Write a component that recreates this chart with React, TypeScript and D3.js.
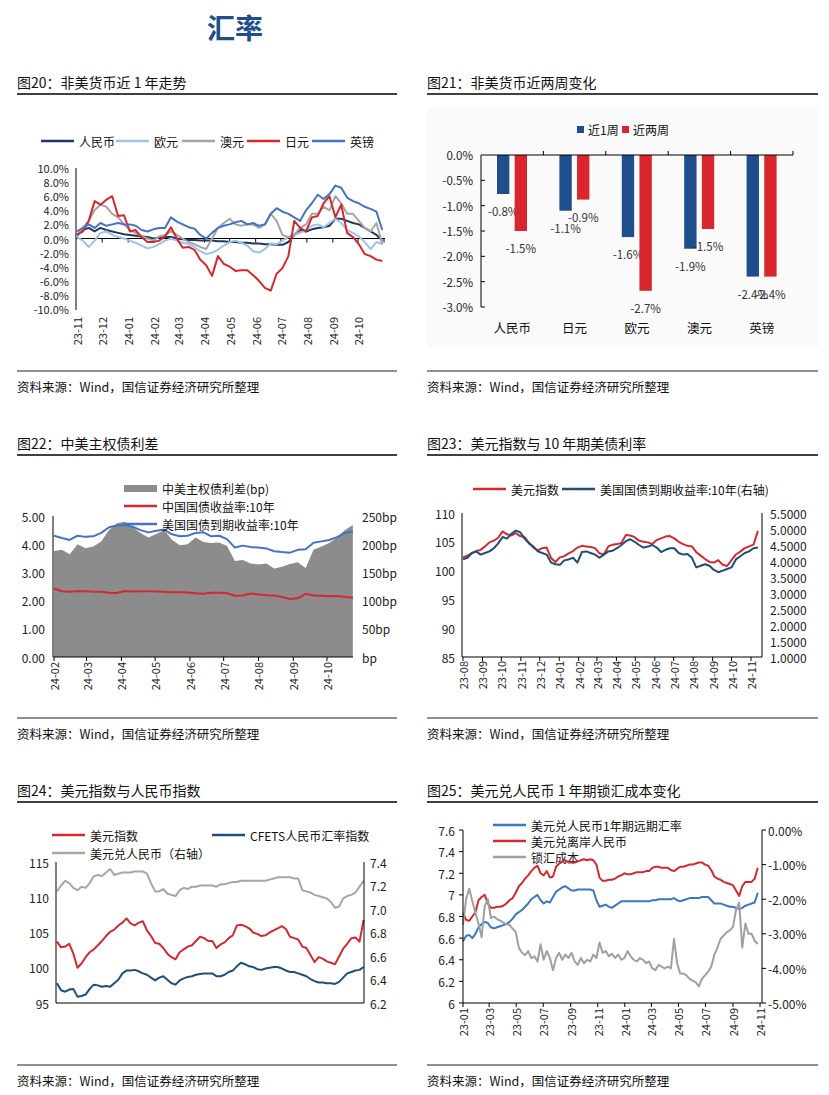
import * as d3 from 'd3';
import { useEffect, useRef } from 'react';

const FONT = '"Noto Sans CJK SC", "Noto Sans", sans-serif';
const SOURCE = '资料来源：Wind，国信证券经济研究所整理';

// 图20 非美货币近1年走势 (%), weekly from 2023-11-01
const start20 = new Date(2023, 10, 1);
const names20 = ['人民币', '欧元', '澳元', '日元', '英镑'];
const cny20 = [0.5, 1.2, 1.5, 1.0, 1.5, 1.2, 1.0, 0.8, 0.6, 0.5, 0.4, 0.3, 0.2, 0.0, 0.1, 0.2, 0.2, 0.0, -0.1, -0.2, -0.2, -0.3, -0.3, -0.3, -0.4, -0.4, -0.5, -0.5, -0.6, -0.6, -0.7, -0.7, -0.8, -0.8, -0.9, -0.9, -0.5, 0.5, 1.2, 1.0, 1.3, 1.5, 1.6, 1.8, 2.8, 2.8, 2.5, 2.2, 2.0, 1.5, 1.0, 0.5, -0.3];
const eur20 = [0.2, -0.3, -1.2, -0.3, 0.8, 1.0, 0.5, 0.2, 0.0, -0.3, -0.6, -1.0, -1.4, -1.2, -0.8, -0.3, 0.0, -0.3, -0.6, -0.8, -1.2, -1.8, -2.2, -2.0, -1.6, -1.0, -0.5, -0.3, -0.6, -1.0, -1.8, -2.0, -1.5, -0.7, -0.8, -0.3, 0.2, 0.5, 0.8, 1.2, 1.8, 2.0, 1.6, 2.2, 2.8, 2.2, 1.2, 0.8, 0.3, -0.5, -1.5, -0.5, -0.8];
const aud20 = [0.3, 1.5, 2.5, 4.0, 4.8, 4.5, 3.5, 3.0, 2.0, 1.2, 0.8, 0.3, 0.0, -0.3, 0.3, 0.5, 1.0, 0.5, 0.0, -0.5, -0.8, -1.2, -1.5, 0.0, 1.5, 2.2, 2.8, 2.0, 1.8, 2.0, 2.0, 1.5, 2.0, 3.5, 2.5, 0.5, 0.2, 0.5, 1.5, 2.0, 3.5, 3.5, 4.5, 4.0, 6.0, 5.0, 3.5, 3.5, 2.5, 1.5, 1.0, 2.2, -0.8];
const jpy20 = [0.5, 1.0, 2.5, 5.3, 4.8, 5.5, 6.0, 3.2, 3.3, 1.0, 1.2, 0.2, -0.5, -0.5, -0.3, 0.3, 1.6, 0.0, -1.3, -1.2, -1.6, -3.0, -3.8, -5.3, -2.5, -3.6, -4.0, -4.6, -4.5, -4.5, -5.2, -6.0, -7.0, -7.4, -5.0, -4.2, -2.5, 2.5, 1.5, 1.0, 3.0, 3.2, 5.0, 6.0, 3.0, 4.8, 0.8, 0.2, -0.8, -2.2, -2.5, -3.0, -3.2];
const gbp20 = [1.0, 1.5, 2.0, 1.5, 2.2, 1.8, 2.0, 2.2, 2.0, 2.0, 1.8, 1.2, 1.0, 1.3, 1.5, 1.5, 3.0, 2.4, 2.0, 1.6, 1.4, 0.5, 0.0, 0.8, 1.5, 1.8, 2.0, 2.3, 2.5, 2.0, 2.2, 1.8, 2.0, 3.5, 4.3, 3.8, 3.5, 3.0, 2.5, 4.0, 5.0, 6.2, 5.6, 6.3, 7.5, 7.2, 5.8, 5.3, 5.0, 4.5, 4.2, 3.8, 1.2];
const yTicks20 = [-10, -8, -6, -4, -2, 0, 2, 4, 6, 8, 10];

// 图21 非美货币近两周变化 (%)
const cats21 = ['人民币', '日元', '欧元', '澳元', '英镑'];
const series21 = ['近1周', '近两周'];
const week1 = [-0.77, -1.1, -1.62, -1.85, -2.4];
const week2 = [-1.5, -0.88, -2.68, -1.46, -2.4];
const yTicks21 = [0, -0.5, -1, -1.5, -2, -2.5, -3];

// 图22 中美主权债利差, weekly from 2024-02-01
const start22 = new Date(2024, 1, 1);
const us22 = [4.30, 4.22, 4.15, 4.30, 4.26, 4.28, 4.40, 4.60, 4.66, 4.68, 4.62, 4.50, 4.42, 4.48, 4.52, 4.35, 4.28, 4.30, 4.40, 4.42, 4.28, 4.30, 4.18, 3.88, 3.95, 3.90, 3.88, 3.85, 3.75, 3.72, 3.70, 3.80, 3.82, 4.05, 4.10, 4.15, 4.25, 4.40, 4.45];
const cn22 = [2.43, 2.33, 2.31, 2.34, 2.33, 2.31, 2.31, 2.28, 2.27, 2.34, 2.32, 2.33, 2.33, 2.32, 2.31, 2.30, 2.30, 2.29, 2.26, 2.24, 2.28, 2.28, 2.26, 2.17, 2.18, 2.25, 2.22, 2.19, 2.18, 2.13, 2.06, 2.08, 2.24, 2.18, 2.17, 2.15, 2.16, 2.14, 2.10];
const spread22 = [188, 190, 182, 200, 193, 196, 205, 225, 237, 240, 230, 220, 212, 218, 225, 208, 198, 200, 212, 204, 202, 203, 197, 170, 172, 166, 164, 166, 157, 160, 165, 168, 158, 190, 196, 202, 212, 225, 234];
const yTicks22 = [0, 1, 2, 3, 4, 5];
const rTicks22 = [0, 50, 100, 150, 200, 250];

// 图23 美元指数与10年期美债利率, weekly from 2023-08-01
const start23 = new Date(2023, 7, 1);
const dxy23 = [102.3, 102.6, 103.0, 103.4, 103.6, 104.2, 104.9, 105.2, 105.7, 106.8, 106.3, 106.1, 106.5, 106.0, 105.8, 104.8, 104.0, 103.5, 103.9, 104.0, 102.2, 101.5, 102.3, 102.5, 103.0, 103.4, 104.0, 104.3, 104.2, 104.1, 103.9, 103.0, 102.8, 104.2, 104.5, 104.6, 104.8, 106.2, 106.1, 105.8, 105.2, 105.0, 104.9, 104.6, 105.3, 105.6, 105.9, 106.0, 105.6, 105.0, 104.6, 104.3, 104.2, 103.2, 102.6, 102.0, 101.5, 101.4, 101.8, 101.0, 100.8, 101.8, 102.8, 103.3, 103.9, 104.2, 104.5, 106.9];
const us23 = [4.05, 4.10, 4.25, 4.30, 4.20, 4.25, 4.30, 4.40, 4.55, 4.75, 4.70, 4.85, 4.95, 4.90, 4.70, 4.55, 4.45, 4.30, 4.25, 4.20, 3.95, 3.90, 3.88, 4.02, 4.05, 4.10, 3.95, 4.28, 4.30, 4.25, 4.20, 4.10, 4.20, 4.30, 4.32, 4.40, 4.50, 4.62, 4.68, 4.60, 4.50, 4.42, 4.45, 4.50, 4.42, 4.28, 4.35, 4.40, 4.40, 4.25, 4.20, 4.22, 4.10, 3.80, 3.85, 3.90, 3.85, 3.72, 3.65, 3.70, 3.75, 3.80, 4.05, 4.15, 4.25, 4.30, 4.40, 4.42];
const yTicks23 = [85, 90, 95, 100, 105, 110];
const rTicks23 = [1, 1.5, 2, 2.5, 3, 3.5, 4, 4.5, 5, 5.5];

// 图24 美元指数与人民币指数, weekly from 2023-06-01
const start24 = new Date(2023, 5, 1);
const dxy24 = [103.7, 102.9, 103.0, 103.4, 102.0, 100.0, 100.6, 101.5, 102.2, 102.6, 103.2, 103.8, 104.5, 105.1, 105.4, 106.0, 106.4, 107.0, 106.3, 106.0, 106.4, 106.6, 105.3, 104.5, 103.5, 103.4, 102.8, 102.0, 101.5, 101.2, 102.2, 102.6, 103.0, 103.2, 103.8, 104.4, 104.2, 103.8, 103.8, 102.8, 103.3, 103.6, 104.2, 104.6, 106.0, 106.1, 105.9, 105.6, 105.0, 104.8, 104.5, 104.6, 105.0, 105.3, 105.6, 105.9, 105.5, 104.4, 104.2, 104.0, 103.0, 102.8, 101.8, 100.8, 101.5, 101.3, 100.9, 100.7, 100.5, 101.6, 102.7, 103.4, 104.2, 104.3, 103.7, 106.8];
const cfets24 = [97.8, 96.8, 96.6, 96.9, 97.0, 95.9, 96.0, 96.2, 97.0, 97.6, 97.5, 97.3, 97.4, 97.3, 97.8, 98.3, 99.2, 99.6, 99.6, 99.7, 99.5, 99.2, 99.0, 98.6, 98.2, 98.6, 98.8, 98.3, 97.8, 97.6, 98.2, 98.5, 98.7, 98.8, 99.0, 99.1, 99.2, 99.2, 99.2, 98.8, 98.8, 99.0, 99.4, 99.6, 100.2, 100.7, 100.5, 100.2, 100.1, 99.8, 99.7, 99.9, 100.0, 100.1, 100.1, 99.9, 99.6, 99.4, 99.4, 99.2, 99.0, 98.8, 98.4, 98.1, 97.9, 97.9, 97.8, 97.8, 97.7, 98.0, 98.6, 99.2, 99.4, 99.6, 99.7, 100.1];
const cny24 = [7.15, 7.20, 7.24, 7.22, 7.18, 7.16, 7.19, 7.18, 7.22, 7.28, 7.29, 7.28, 7.31, 7.34, 7.29, 7.30, 7.31, 7.31, 7.31, 7.32, 7.32, 7.32, 7.30, 7.22, 7.15, 7.15, 7.17, 7.13, 7.12, 7.11, 7.16, 7.18, 7.17, 7.19, 7.19, 7.20, 7.20, 7.20, 7.20, 7.19, 7.21, 7.21, 7.22, 7.23, 7.23, 7.24, 7.24, 7.24, 7.24, 7.24, 7.24, 7.24, 7.25, 7.26, 7.27, 7.27, 7.27, 7.27, 7.26, 7.26, 7.16, 7.15, 7.14, 7.12, 7.11, 7.10, 7.09, 7.06, 7.01, 7.02, 7.09, 7.11, 7.12, 7.14, 7.19, 7.24];
const yTicks24 = [95, 100, 105, 110, 115];
const rTicks24 = [6.2, 6.4, 6.6, 6.8, 7.0, 7.2, 7.4];

// 图25 美元兑人民币1年期锁汇成本变化, weekly from 2023-01-01
const start25 = new Date(2023, 0, 1);
const fwd25 = [6.57, 6.62, 6.63, 6.60, 6.64, 6.70, 6.73, 6.75, 6.74, 6.70, 6.69, 6.70, 6.71, 6.72, 6.73, 6.75, 6.78, 6.82, 6.84, 6.86, 6.89, 6.92, 6.96, 6.98, 7.00, 6.95, 6.92, 6.94, 6.93, 6.98, 7.03, 7.05, 7.07, 7.08, 7.06, 7.04, 7.04, 7.05, 7.05, 7.05, 7.05, 7.05, 7.04, 6.95, 6.89, 6.90, 6.91, 6.89, 6.88, 6.90, 6.92, 6.94, 6.94, 6.94, 6.94, 6.94, 6.94, 6.94, 6.94, 6.94, 6.94, 6.95, 6.95, 6.96, 6.96, 6.96, 6.96, 6.96, 6.97, 6.95, 6.94, 6.95, 6.96, 6.97, 6.97, 6.97, 6.97, 6.98, 6.98, 6.98, 6.95, 6.92, 6.92, 6.92, 6.91, 6.90, 6.89, 6.89, 6.88, 6.87, 6.88, 6.90, 6.91, 6.92, 6.93, 7.02];
const cnh25 = [6.83, 6.77, 6.76, 6.80, 6.84, 6.95, 6.98, 7.00, 6.92, 6.88, 6.88, 6.89, 6.89, 6.90, 6.92, 6.95, 6.97, 7.02, 7.08, 7.11, 7.15, 7.18, 7.22, 7.25, 7.27, 7.20, 7.18, 7.22, 7.16, 7.17, 7.26, 7.29, 7.31, 7.32, 7.30, 7.30, 7.30, 7.31, 7.32, 7.33, 7.32, 7.33, 7.32, 7.28, 7.16, 7.13, 7.13, 7.14, 7.14, 7.15, 7.17, 7.18, 7.20, 7.19, 7.19, 7.20, 7.21, 7.21, 7.21, 7.22, 7.22, 7.25, 7.26, 7.26, 7.25, 7.25, 7.25, 7.23, 7.22, 7.24, 7.26, 7.26, 7.27, 7.28, 7.28, 7.29, 7.30, 7.30, 7.28, 7.27, 7.23, 7.17, 7.15, 7.14, 7.12, 7.11, 7.10, 7.09, 7.04, 6.99, 7.08, 7.12, 7.12, 7.12, 7.15, 7.25];
const cost25 = [-2.74, -2.00, -1.70, -2.05, -2.40, -2.70, -3.10, -2.20, -2.00, -2.55, -2.50, -2.58, -2.62, -2.68, -2.72, -2.75, -2.85, -2.95, -3.40, -3.55, -3.62, -3.50, -3.70, -3.65, -3.80, -3.30, -3.75, -3.50, -3.70, -4.05, -3.70, -3.55, -3.75, -3.60, -3.70, -3.55, -3.80, -3.90, -3.70, -3.85, -3.75, -3.80, -3.60, -3.70, -3.25, -3.55, -3.50, -3.65, -3.58, -3.70, -3.60, -3.75, -3.70, -3.50, -3.65, -3.75, -3.80, -3.70, -3.75, -3.85, -3.80, -4.00, -4.05, -3.90, -3.95, -4.00, -3.95, -4.00, -3.15, -3.85, -4.15, -4.15, -4.20, -4.30, -4.35, -4.40, -4.52, -4.30, -4.20, -4.10, -3.95, -3.60, -3.40, -3.15, -3.05, -2.95, -2.90, -2.80, -2.30, -2.10, -3.40, -2.70, -3.00, -3.00, -3.20, -3.30];
const yTicks25 = [6, 6.2, 6.4, 6.6, 6.8, 7, 7.2, 7.4, 7.6];
const rTicks25 = [0, -1, -2, -3, -4, -5];

const txt = (g: any, x: number, y: number, s: string, size = 11.5, anchor = 'start', fill = '#222') =>
    g.append('text')
        .attr('x', x).attr('y', y)
        .attr('font-size', size)
        .attr('text-anchor', anchor)
        .attr('dominant-baseline', 'central')
        .attr('fill', fill)
        .attr('font-family', FONT)
        .text(s);

const seg = (g: any, x1: number, y1: number, x2: number, y2: number, color = '#000', w = 1) =>
    g.append('line')
        .attr('x1', x1).attr('y1', y1).attr('x2', x2).attr('y2', y2)
        .attr('stroke', color).attr('stroke-width', w);

const datesOf = (start: Date, n: number) => d3.range(n).map(i => d3.timeDay.offset(start, i * 7));

const drawSeries = (g: any, dates: Date[], vals: number[], x: any, y: any, color: string, w = 2) => {
    const line = d3.line<number>().x((_, i) => x(dates[i])).y(d => y(d));
    g.append('path')
        .attr('d', line(vals))
        .attr('fill', 'none')
        .attr('stroke', color)
        .attr('stroke-width', w)
        .attr('stroke-linejoin', 'round');
};

const monthLabels = (g: any, x: any, months: Date[], top: number) => {
    months.forEach(m => {
        g.append('text')
            .attr('transform', `translate(${x(m)},${top}) rotate(-90)`)
            .attr('text-anchor', 'end')
            .attr('dominant-baseline', 'central')
            .attr('font-size', 11)
            .attr('fill', '#222')
            .attr('font-family', FONT)
            .text(d3.timeFormat('%y-%m')(m));
    });
};

const header = (svg: any, x0: number, x1: number, y: number, title: string) => {
    txt(svg, x0, y, title, 14, 'start', '#111');
    seg(svg, x0, y + 12, x1, y + 12, '#000', 1.3);
};

const footer = (svg: any, x0: number, x1: number, y: number) => {
    seg(svg, x0, y, x1, y, '#222', 1);
    txt(svg, x0, y + 15, SOURCE, 12.5, 'start', '#111');
};

const legendLine = (g: any, x: number, y: number, color: string, label: string, len = 33) => {
    seg(g, x, y, x + len, y, color, 2.5);
    txt(g, x + len + 5, y, label, 12, 'start', '#111');
};

const chart20 = (svg: any) => {
    header(svg, 17, 397, 82, '图20：非美货币近 1 年走势');
    const g = svg.append('g');
    const x = d3.scaleTime().domain([new Date(2023, 10, 1), new Date(2024, 10, 1)]).range([77, 384]);
    const y = d3.scaleLinear().domain([-10, 10]).range([309, 168]);
    const dates = datesOf(start20, cny20.length);

    seg(g, 76, 168, 76, 310);
    yTicks20.forEach(v => txt(g, 69, y(v), `${v.toFixed(1)}%`, 11, 'end'));
    const y0 = y(0);
    seg(g, 76, y0, 385, y0);
    const months = d3.timeMonth.range(new Date(2023, 10, 1), new Date(2024, 10, 2));
    months.slice(1).forEach(m => seg(g, x(m), y0, x(m), y0 + 4));
    monthLabels(g, x, months.slice(0, 12), 317);

    const colors20 = ['#1f3864', '#9dc3e6', '#a5a5a5', '#d9262c', '#4472c4'];
    [cny20, eur20, aud20, jpy20, gbp20].forEach((s, i) => drawSeries(g, dates, s, x, y, colors20[i], 2));

    const legX = [41, 116, 182, 247, 312];
    names20.forEach((n, i) => legendLine(g, legX[i], 141, colors20[i], n));
    footer(svg, 17, 397, 371);
};

const chart21 = (svg: any) => {
    header(svg, 427, 818, 82, '图21：非美货币近两周变化');
    const g = svg.append('g');
    g.append('rect').attr('x', 427).attr('y', 108).attr('width', 391).attr('height', 239).attr('fill', '#fafafa');
    const x0 = d3.scaleBand().domain(cats21).range([481, 793]).paddingInner(0).paddingOuter(0);
    const x1 = d3.scaleBand().domain(series21).range([16, 46]).paddingInner(0.3);
    const y = d3.scaleLinear().domain([-3, 0]).range([307, 155]);
    const colors21 = ['#1f4e8c', '#d9262c'];

    [week1, week2].forEach((vals, si) => {
        vals.forEach((v, ci) => {
            const bx = (x0(cats21[ci]) as number) + (x1(series21[si]) as number);
            g.append('rect')
                .attr('x', bx).attr('y', y(0))
                .attr('width', x1.bandwidth()).attr('height', y(v) - y(0))
                .attr('fill', colors21[si]);
            txt(g, bx + x1.bandwidth() / 2, y(v) + 17, `${v.toFixed(1)}%`, 11.5, 'middle', '#333');
        });
    });

    seg(g, 481, 155, 481, 307);
    yTicks21.forEach(v => {
        if (v !== 0) seg(g, 481, y(v), 485, y(v));
        txt(g, 473, y(v), `${v.toFixed(1)}%`, 11.5, 'end');
    });
    seg(g, 481, 155, 793, 155);
    cats21.forEach(c => {
        const bx = (x0(c) as number) + x0.bandwidth();
        seg(g, bx, 155, bx, 151);
        txt(g, (x0(c) as number) + x0.bandwidth() / 2, 327, c, 12.5, 'middle', '#111');
    });

    series21.forEach((s, i) => {
        const lx = i === 0 ? 577 : 622;
        g.append('rect').attr('x', lx).attr('y', 126).attr('width', 7).attr('height', 7).attr('fill', colors21[i]);
        txt(g, lx + 11, 129.5, s, 12, 'start', '#111');
    });
    footer(svg, 427, 818, 371);
};

const chart22 = (svg: any) => {
    header(svg, 17, 397, 443, '图22：中美主权债利差');
    const g = svg.append('g');
    const x = d3.scaleTime().domain([new Date(2024, 1, 1), new Date(2024, 9, 1)]).range([54, 327]);
    const yL = d3.scaleLinear().domain([0, 5]).range([657, 516]);
    const yR = d3.scaleLinear().domain([0, 250]).range([657, 516]);
    const dates = datesOf(start22, spread22.length);

    const area = d3.area<number>().x((_, i) => x(dates[i])).y0(yR(0)).y1(d => yR(d));
    g.append('path').attr('d', area(spread22)).attr('fill', '#8c8c8c');
    drawSeries(g, dates, cn22, x, yL, '#d42a2f', 2);
    drawSeries(g, dates, us22, x, yL, '#4472c4', 2);

    seg(g, 53, 516, 53, 657);
    seg(g, 53, 657, 353, 657);
    yTicks22.forEach(v => txt(g, 45, yL(v), v.toFixed(2), 12, 'end'));
    rTicks22.forEach(v => txt(g, 362, yR(v), v === 0 ? 'bp' : `${v}bp`, 12, 'start'));
    const months = d3.timeMonth.range(new Date(2024, 1, 1), new Date(2024, 9, 2));
    months.forEach(m => seg(g, x(m), 657, x(m), 661));
    monthLabels(g, x, months, 662);

    g.append('rect').attr('x', 124).attr('y', 485).attr('width', 33).attr('height', 7).attr('fill', '#8c8c8c');
    txt(g, 162, 488.5, '中美主权债利差(bp)', 12, 'start', '#111');
    legendLine(g, 124, 506, '#d42a2f', '中国国债收益率:10年');
    legendLine(g, 124, 524, '#4472c4', '美国国债到期收益率:10年');
    footer(svg, 17, 397, 718);
};

const chart23 = (svg: any) => {
    header(svg, 427, 818, 443, '图23：美元指数与 10 年期美债利率');
    const g = svg.append('g');
    const x = d3.scaleTime().domain([new Date(2023, 7, 1), new Date(2024, 10, 1)]).range([463, 751]);
    const yL = d3.scaleLinear().domain([85, 110]).range([657, 513]);
    const yR = d3.scaleLinear().domain([1, 5.5]).range([657, 513]);
    const dates = datesOf(start23, dxy23.length);

    drawSeries(g, dates, dxy23, x, yL, '#d42a2f', 2);
    drawSeries(g, dates, us23, x, yR, '#1f4e79', 2);

    seg(g, 462, 513, 462, 657);
    seg(g, 762, 513, 762, 657);
    seg(g, 462, 657, 762, 657);
    yTicks23.forEach(v => txt(g, 455, yL(v), String(v), 12, 'end'));
    rTicks23.forEach(v => txt(g, 770, yR(v), v.toFixed(4), 12, 'start'));
    const months = d3.timeMonth.range(new Date(2023, 7, 1), new Date(2024, 10, 2));
    months.forEach(m => seg(g, x(m), 657, x(m), 661));
    monthLabels(g, x, months, 661);

    legendLine(g, 473, 489, '#d42a2f', '美元指数');
    legendLine(g, 562, 489, '#1f4e79', '美国国债到期收益率:10年(右轴)');
    footer(svg, 427, 818, 718);
};

const chart24 = (svg: any) => {
    header(svg, 17, 397, 790, '图24：美元指数与人民币指数');
    const g = svg.append('g');
    const x = d3.scaleTime().domain([new Date(2023, 5, 1), new Date(2024, 9, 1)]).range([57, 342]);
    const yL = d3.scaleLinear().domain([95, 115]).range([1003, 862]);
    const yR = d3.scaleLinear().domain([6.2, 7.4]).range([1003, 862]);
    const dates = datesOf(start24, dxy24.length);

    drawSeries(g, dates, dxy24, x, yL, '#d42a2f', 2);
    drawSeries(g, dates, cfets24, x, yL, '#1f4e79', 2);
    drawSeries(g, dates, cny24, x, yR, '#a6a6a6', 2);

    seg(g, 56, 862, 56, 1003);
    seg(g, 364, 862, 364, 1003);
    seg(g, 56, 1003, 364, 1003);
    yTicks24.forEach(v => txt(g, 49, yL(v), String(v), 12, 'end'));
    rTicks24.forEach(v => txt(g, 370, yR(v), v.toFixed(1), 12, 'start'));
    const months = d3.timeMonth.every(2)!.range(new Date(2023, 5, 1), new Date(2024, 9, 2))
        .filter(m => (m.getMonth() % 2) === 1);
    months.forEach(m => seg(g, x(m), 1003, x(m), 1007));
    monthLabels(g, x, months, 1007);

    legendLine(g, 52, 835, '#d42a2f', '美元指数');
    legendLine(g, 212, 835, '#1f4e79', 'CFETS人民币汇率指数');
    legendLine(g, 52, 853, '#a6a6a6', '美元兑人民币（右轴）');
    footer(svg, 17, 397, 1065);
};

const chart25 = (svg: any) => {
    header(svg, 427, 818, 790, '图25：美元兑人民币 1 年期锁汇成本变化');
    const g = svg.append('g');
    const x = d3.scaleTime().domain([new Date(2023, 0, 1), new Date(2024, 10, 1)]).range([463, 760]);
    const yL = d3.scaleLinear().domain([6, 7.6]).range([1003, 830]);
    const yR = d3.scaleLinear().domain([-5, 0]).range([1003, 830]);
    const dates = datesOf(start25, fwd25.length);

    legendLine(g, 493, 825, '#3a78c2', '美元兑人民币1年期远期汇率');
    legendLine(g, 493, 841, '#d42a2f', '美元兑离岸人民币');
    legendLine(g, 493, 857, '#a0a0a0', '锁汇成本');

    drawSeries(g, dates, fwd25, x, yL, '#3a78c2', 2);
    drawSeries(g, dates, cnh25, x, yL, '#d42a2f', 2);
    drawSeries(g, dates, cost25, x, yR, '#a0a0a0', 2);

    seg(g, 463, 830, 463, 1003);
    seg(g, 762, 830, 762, 1003);
    seg(g, 463, 1003, 762, 1003);
    yTicks25.forEach(v => {
        seg(g, 459, yL(v), 463, yL(v));
        txt(g, 455, yL(v), String(+v.toFixed(1)), 12, 'end');
    });
    rTicks25.forEach(v => {
        seg(g, 762, yR(v), 766, yR(v));
        txt(g, 768, yR(v), `${v.toFixed(2)}%`, 12, 'start');
    });
    const months = d3.timeMonth.every(2)!.range(new Date(2023, 0, 1), new Date(2024, 10, 2))
        .filter(m => (m.getMonth() % 2) === 0);
    months.forEach(m => seg(g, x(m), 1003, x(m), 1007));
    monthLabels(g, x, months, 1008);

    footer(svg, 427, 818, 1065);
};

const App = () => {
    const ref = useRef<SVGSVGElement>(null);

    useEffect(() => {
        const svg: any = d3.select(ref.current);
        svg.selectAll('*').remove();
        svg.append('rect').attr('width', 829).attr('height', 1095).attr('fill', '#fff');
        svg.append('text')
            .attr('x', 235).attr('y', 39)
            .attr('text-anchor', 'middle')
            .attr('font-size', 28)
            .attr('font-weight', 700)
            .attr('fill', '#1f4e8c')
            .attr('font-family', FONT)
            .text('汇率');
        chart20(svg);
        chart21(svg);
        chart22(svg);
        chart23(svg);
        chart24(svg);
        chart25(svg);
    }, []);

    return (
        <svg ref={ref} width={829} height={1095} style={{ position: 'absolute', left: 0, top: 0 }} />
    );
};

export default App;
